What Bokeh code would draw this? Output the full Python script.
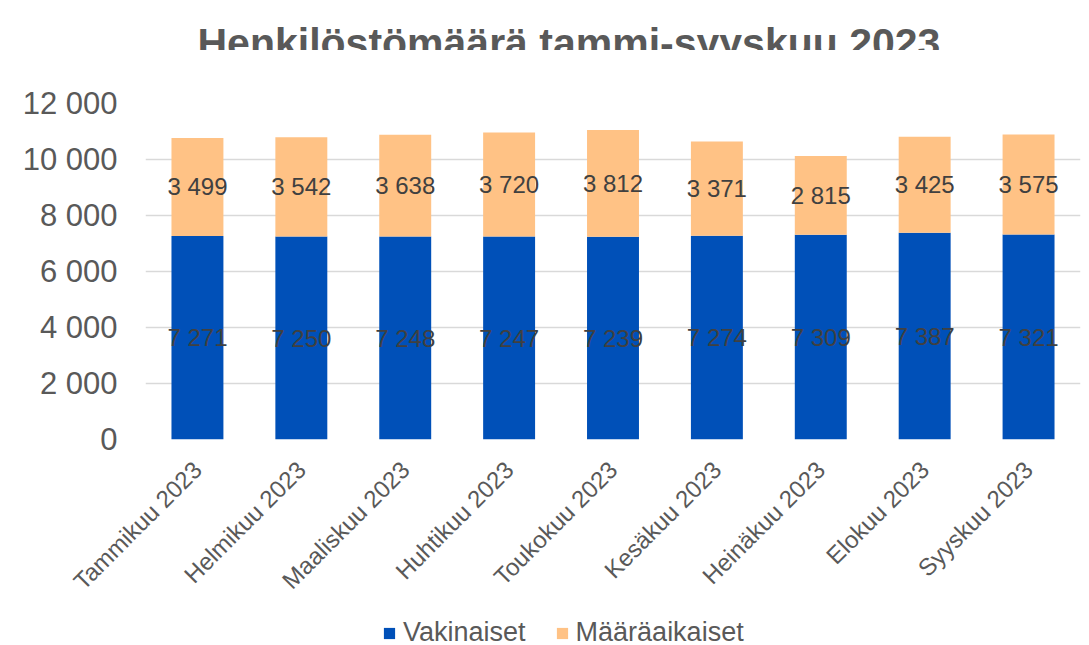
import math
from bokeh.plotting import figure
from bokeh.layouts import column
from bokeh.models import (ColumnDataSource, Range1d, FixedTicker, Legend, LegendItem, Label)
from bokeh.core.properties import value
from bokeh.embed import file_html
from bokeh.resources import INLINE

# ---- data ----
months = ["Tammikuu 2023", "Helmikuu 2023", "Maaliskuu 2023", "Huhtikuu 2023",
          "Toukokuu 2023", "Kesäkuu 2023", "Heinäkuu 2023", "Elokuu 2023", "Syyskuu 2023"]
vakinaiset = [7271, 7250, 7248, 7247, 7239, 7274, 7309, 7387, 7321]
maaraaikaiset = [3499, 3542, 3638, 3720, 3812, 3371, 2815, 3425, 3575]
series_names = ["Vakinaiset", "Määräaikaiset"]
y_ticks = [0, 2000, 4000, 6000, 8000, 10000, 12000]
y_tick_labels = ["0", "2 000", "4 000", "6 000", "8 000", "10 000", "12 000"]
title_text = "Henkilöstömäärä tammi-syyskuu 2023"

colors = ["#0050B8", "#FFC285"]
FONT = "Liberation Sans"
GRAY = "#595959"


def fmt(v):
    return f"{v:,}".replace(",", " ")


src = ColumnDataSource(dict(
    month=months,
    vak=vakinaiset,
    maa=maaraaikaiset,
    vak_mid=[v / 2 for v in vakinaiset],
    maa_mid=[v + m / 2 for v, m in zip(vakinaiset, maaraaikaiset)],
    vak_lbl=[fmt(v) for v in vakinaiset],
    maa_lbl=[fmt(m) for m in maaraaikaiset],
))


def strip(height):
    f = figure(width=1081, height=height, x_range=Range1d(0, 1), y_range=Range1d(0, 1),
               output_backend="svg", toolbar_location=None,
               min_border_left=0, min_border_right=0, min_border_top=0, min_border_bottom=0)
    f.axis.visible = False
    f.grid.visible = False
    f.outline_line_color = None
    f.background_fill_color = "white"
    f.border_fill_color = "white"
    return f


# ---- title strip ----
pt = strip(50)
pt.add_layout(Label(x=52, y=8, x_units="screen", y_units="screen", text=title_text,
                    text_font=FONT, text_font_size="41px", text_font_style="bold",
                    text_color=GRAY, text_align="left", text_baseline="alphabetic"))

# ---- main chart ----
p = figure(x_range=months, y_range=Range1d(0, 12000), width=1081, height=548,
           frame_width=935, frame_height=336, title_location=None,
           output_backend="svg", toolbar_location=None,
           min_border_left=145, min_border_right=1, min_border_top=53, min_border_bottom=159)

p.outline_line_color = None
p.background_fill_color = "white"
p.border_fill_color = "white"

renderers = p.vbar_stack(["vak", "maa"], x="month", width=0.5, source=src,
                         color=colors, line_color=None)

p.text(x="month", y="vak_mid", text="vak_lbl", source=src, text_align="center",
       text_baseline="middle", text_font=value(FONT), text_font_size="24px",
       text_color="#404040")
p.text(x="month", y="maa_mid", text="maa_lbl", source=src, text_align="center",
       text_baseline="middle", text_font=value(FONT), text_font_size="24px",
       text_color="#404040")

# axes
yax = p.yaxis[0]
yax.ticker = FixedTicker(ticks=y_ticks)
yax.major_label_overrides = {t: l for t, l in zip(y_ticks, y_tick_labels)}
yax.major_label_text_font = FONT
yax.major_label_text_font_size = "31px"
yax.major_label_text_color = GRAY
yax.axis_line_color = None
yax.major_tick_line_color = None
yax.minor_tick_line_color = None
yax.major_tick_out = 0
yax.major_label_standoff = 28

xax = p.below[0]
xax.major_label_orientation = math.pi / 4
xax.major_label_text_font = FONT
xax.major_label_text_font_size = "24px"
xax.major_label_text_color = GRAY
xax.axis_line_color = None
xax.major_tick_line_color = None
xax.major_tick_out = 0
xax.major_label_standoff = 26

p.xgrid.grid_line_color = None
p.ygrid.grid_line_color = "#D9D9D9"
p.ygrid.grid_line_width = 1.5

# ---- legend strip below the chart ----
pl = strip(47)
# zero-size swatch renderers: they only carry the series colours for the legend keys
legend_renderers = [pl.vbar(x=[0], bottom=[0], top=[0], width=0, color=c, line_color=None)
                    for c in colors]

legend = Legend(items=[LegendItem(label=n, renderers=[r])
                       for n, r in zip(series_names, legend_renderers)],
                orientation="horizontal", location=(237, 6),
                label_text_font=FONT, label_text_font_size="27px", label_text_color=GRAY,
                glyph_width=14, glyph_height=14, label_standoff=7, spacing=29,
                padding=0, margin=0, border_line_color=None, background_fill_alpha=0)
pl.add_layout(legend, "center")

layout = column(pt, p, pl, spacing=0)
open("out.html", "w").write(file_html(layout, INLINE))
